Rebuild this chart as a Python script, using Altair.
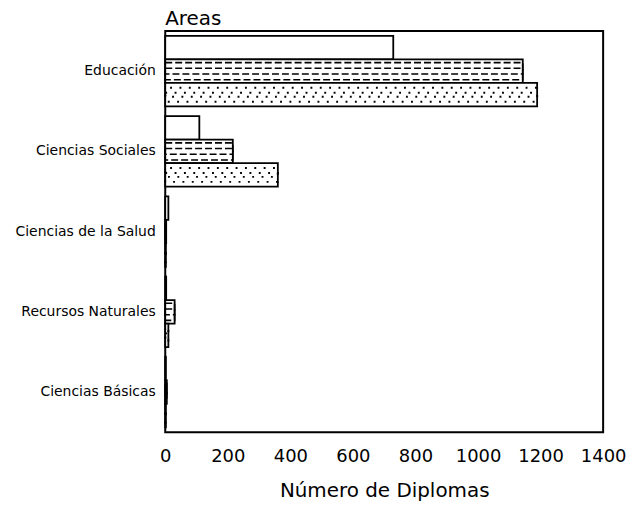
import altair as alt
import pandas as pd

categories = ["Educación", "Ciencias Sociales", "Ciencias de la Salud",
              "Recursos Naturales", "Ciencias Básicas"]
series = ["Serie 1", "Serie 2", "Serie 3"]
serie1 = [729, 109, 10, 3, 2]
serie2 = [1143, 216, 3, 30, 5]
serie3 = [1189, 360, 2, 10, 2]
x_ticks = [0, 200, 400, 600, 800, 1000, 1200, 1400]

rows = []
for s, vals in zip(series, [serie1, serie2, serie3]):
    for c, v in zip(categories, vals):
        rows.append({"area": c, "serie": s, "diplomas": v})
df = pd.DataFrame(rows)

FONT = "DejaVu Sans"

y_enc = alt.Y(
    "area:N", sort=categories,
    scale=alt.Scale(domain=categories, paddingInner=0.12, paddingOuter=0.06),
    axis=alt.Axis(title=None, ticks=False, domain=False, labelFont=FONT,
                  labelFontSize=14, labelColor="black", labelPadding=10),
)
yoff = alt.YOffset("serie:N", sort=series,
                   scale=alt.Scale(domain=series, paddingInner=0, paddingOuter=0))
x_enc = alt.X(
    "diplomas:Q", stack=False,
    scale=alt.Scale(domain=[0, 1400], nice=False),
    axis=alt.Axis(values=x_ticks, format="d", title="Número de Diplomas",
                  ticks=False, domain=False, grid=False, labelFlush=False,
                  labelFont=FONT, labelFontSize=18, labelColor="black",
                  labelPadding=15, titleFont=FONT, titleFontSize=20,
                  titleFontWeight="normal", titleColor="black",
                  titlePadding=16),
)

base = alt.Chart(df).encode(x=x_enc, y=y_enc, yOffset=yoff)

bars = base.mark_bar(fill="white", stroke="black", strokeWidth=1.8)

dashed = base.transform_filter(alt.datum.serie == series[1])
dash_layers = [
    dashed.mark_bar(size=h, fillOpacity=0, stroke="black", strokeWidth=1.6,
                    strokeDash=[7, 3])
    for h in (5.8, 17.2)
]

dotted = base.transform_filter(alt.datum.serie == series[2])
dot_layers = [
    dotted.mark_bar(size=h, fillOpacity=0, stroke="black", strokeWidth=1.9,
                    strokeDash=[1.9, 7.5], strokeDashOffset=o)
    for h, o in ((4, 0), (14, 4.5))
]

chart = alt.layer(bars, *dash_layers, *dot_layers).properties(
    width=440, height=403,
    title=alt.TitleParams("Areas", anchor="start", frame="group", font=FONT,
                          fontSize=20, fontWeight="normal", color="black",
                          offset=2),
    padding={"left": 6, "top": 0, "right": 5, "bottom": 0},
).configure_view(stroke="black", strokeWidth=2)

chart.save("out.html", embed_options={"renderer": "svg", "actions": False})
